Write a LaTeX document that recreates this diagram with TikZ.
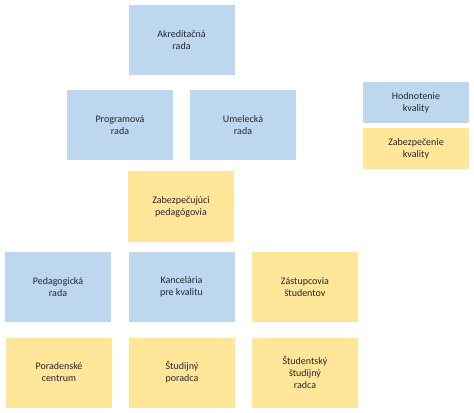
\documentclass[tikz,border=0pt]{standalone}
\usepackage{fontspec}
\setmainfont{Carlito}
\definecolor{modra}{RGB}{189,215,238}
\definecolor{zlta}{RGB}{255,230,153}
\definecolor{pismo}{RGB}{38,38,48}
\tikzset{
  velky/.style={rectangle, inner sep=0pt, minimum width=79.5pt, minimum height=52.5pt, align=center, text=pismo, font=\fontsize{7.5}{9}\selectfont},
  maly/.style={velky, minimum height=30.75pt},
  modry/.style={fill=modra},
  zlty/.style={fill=zlta}
}
\begin{document}
\begin{tikzpicture}[x=0.75pt,y=0.75pt,yscale=-1,xscale=1]
\useasboundingbox (0,0) rectangle (474,413);

% Text Node
\node [velky,modry] (akred) at (181.5,40) {Akreditačná\\rada};
% Text Node
\node [velky,modry] (program) at (120,125.5) {Programová\\rada};
% Text Node
\node [velky,modry] (umel) at (243,125.5) {Umelecká\\rada};
% Text Node
\node [velky,zlty] (zabped) at (181,206.5) {Zabezpečujúci\\pedagógovia};

% Text Node
\node [velky,modry] (pedrada) at (58,287) {Pedagogická\\rada};
% Text Node
\node [velky,modry] (kancel) at (181.5,287) {Kancelária\\pre kvalitu};
% Text Node
\node [velky,zlty] (zastup) at (305,287) {Zástupcovia\\študentov};

% Text Node
\node [velky,zlty] (porcen) at (59,372.5) {Poradenské\\centrum};
% Text Node
\node [velky,zlty] (studpor) at (182,372.5) {Študijný\\poradca};
% Text Node
\node [velky,zlty] (studrad) at (305,372.5) {Študentský\\študijný\\radca};

% Legend
\node [maly,modry] (hodn) at (416,102.5) {Hodnotenie\\kvality};
\node [maly,zlty] (zabkv) at (416,148.5) {Zabezpečenie\\kvality};

\end{tikzpicture}
\end{document}
